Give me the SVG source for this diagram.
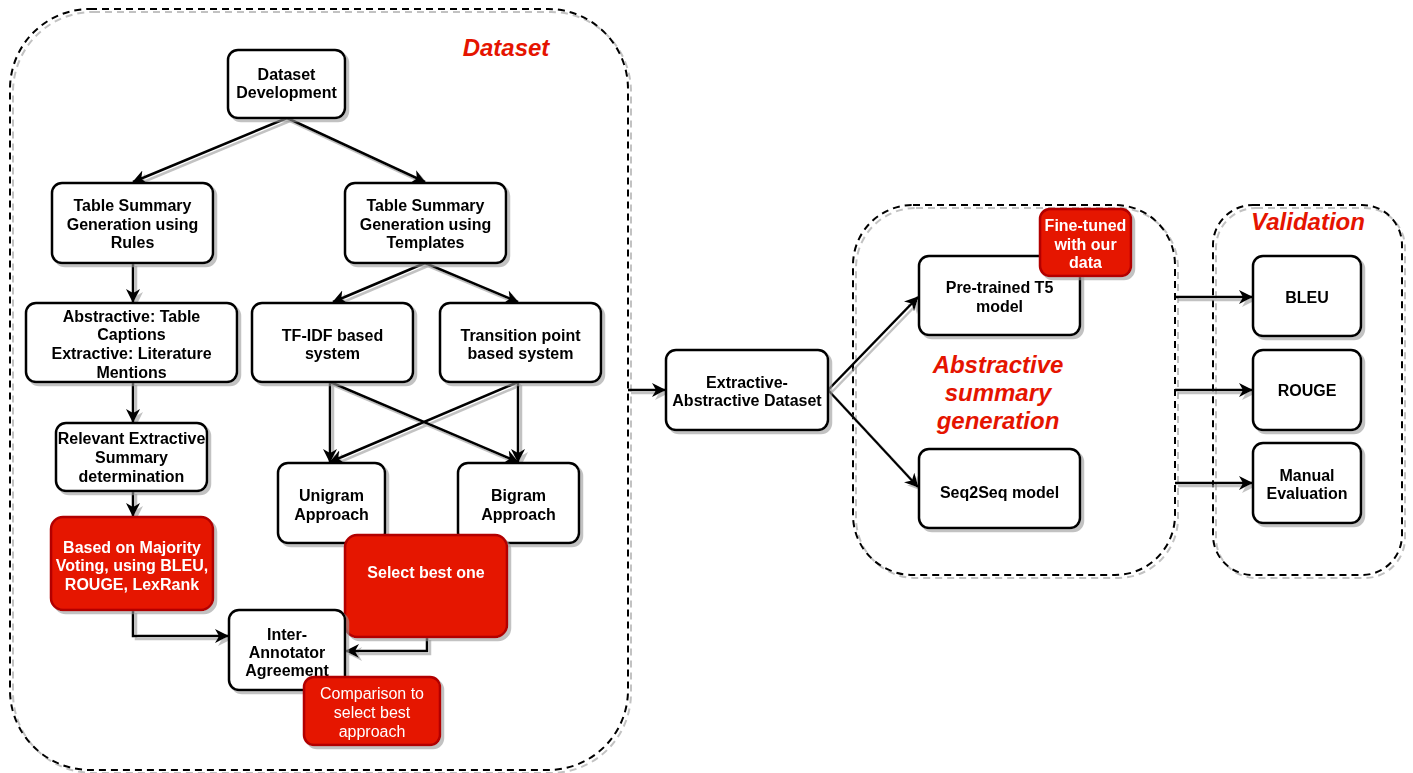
<svg xmlns="http://www.w3.org/2000/svg" width="1413" height="773" viewBox="0 0 1413 773">
<defs>
<filter id="sh" x="-10%" y="-10%" width="130%" height="130%">
<feOffset in="SourceAlpha" dx="3" dy="3" result="o"/>
<feFlood flood-color="#999" flood-opacity="0.6"/>
<feComposite in2="o" operator="in" result="s"/>
<feMerge><feMergeNode in="s"/><feMergeNode in="SourceGraphic"/></feMerge>
</filter>
<marker id="ar" markerWidth="16" markerHeight="16" refX="13" refY="7" orient="auto" markerUnits="userSpaceOnUse">
<path d="M0,0 L14,7 L0,14 L4,7 z" fill="#000"/>
</marker>
</defs>
<style>
.cont{fill:none;stroke:#000;stroke-width:2;stroke-dasharray:7 5}
.box{fill:#fff;stroke:#000;stroke-width:2.5}
.red{fill:#e51400;stroke:#b20000;stroke-width:2.5}
.t{font-family:"Liberation Sans",Arial,sans-serif;font-size:16px;font-weight:bold;fill:#000;text-anchor:middle}
.w{fill:#fff}
.n{font-weight:normal}
.title{font-family:"Liberation Sans",Arial,sans-serif;font-size:24px;font-weight:bold;font-style:italic;fill:#e51400;text-anchor:middle}
.c{fill:none;stroke:#000;stroke-width:2.5}
</style>

<g id="containers" filter="url(#sh)">
<rect id="dataset-container" class="cont" x="10" y="9" width="618" height="761" rx="80"/>
<rect id="abstractive-container" class="cont" x="853" y="205" width="322" height="370" rx="60"/>
<rect id="validation-container" class="cont" x="1213" y="205" width="189" height="370" rx="40"/>
</g>

<g id="titles">
<text class="title" x="506" y="56">Dataset</text>
<text class="title" x="1308" y="230">Validation</text>
<text class="title" x="998" y="373">Abstractive</text>
<text class="title" x="998" y="401">summary</text>
<text class="title" x="998" y="429">generation</text>
</g>

<g id="connectors" filter="url(#sh)">
<path class="c" d="M287,118 L133,182" marker-end="url(#ar)"/>
<path class="c" d="M287,118 L425,182" marker-end="url(#ar)"/>
<path class="c" d="M133,263 L133,302" marker-end="url(#ar)"/>
<path class="c" d="M425,263 L333,302" marker-end="url(#ar)"/>
<path class="c" d="M425,263 L518,302" marker-end="url(#ar)"/>
<path class="c" d="M133,382 L133,422" marker-end="url(#ar)"/>
<path class="c" d="M133,491 L133,516" marker-end="url(#ar)"/>
<path class="c" d="M330,382 L330,462" marker-end="url(#ar)"/>
<path class="c" d="M330,382 L518,462" marker-end="url(#ar)"/>
<path class="c" d="M518,382 L518,462" marker-end="url(#ar)"/>
<path class="c" d="M518,382 L330,462" marker-end="url(#ar)"/>
<path class="c" d="M133,610 L133,636 L228,636" marker-end="url(#ar)"/>
<path class="c" d="M427,637 L427,651 L346,651" marker-end="url(#ar)"/>
<path class="c" d="M628,390 L665,390" stroke-width="4" marker-end="url(#ar)"/>
<path class="c" d="M828,390 L918,297" marker-end="url(#ar)"/>
<path class="c" d="M828,390 L918,487" marker-end="url(#ar)"/>
<path class="c" d="M1175,297 L1252,297" marker-end="url(#ar)"/>
<path class="c" d="M1175,390 L1252,390" marker-end="url(#ar)"/>
<path class="c" d="M1175,483 L1252,483" marker-end="url(#ar)"/>
</g>

<g id="n-dataset-dev" filter="url(#sh)">
<rect class="box" x="228" y="50" width="117" height="68" rx="10"/>
<text class="t" x="286.5" y="80">Dataset</text>
<text class="t" x="286.5" y="98">Development</text>
</g>
<g id="n-rules" filter="url(#sh)">
<rect class="box" x="52" y="183" width="161" height="80" rx="10"/>
<text class="t" x="132.5" y="211">Table Summary</text>
<text class="t" x="132.5" y="230">Generation using</text>
<text class="t" x="132.5" y="248">Rules</text>
</g>
<g id="n-templates" filter="url(#sh)">
<rect class="box" x="345" y="183" width="161" height="80" rx="10"/>
<text class="t" x="425.5" y="211">Table Summary</text>
<text class="t" x="425.5" y="230">Generation using</text>
<text class="t" x="425.5" y="248">Templates</text>
</g>
<g id="n-abs-ext" filter="url(#sh)">
<rect class="box" x="26" y="303" width="211" height="79" rx="10"/>
<text class="t" x="131.5" y="322">Abstractive: Table</text>
<text class="t" x="131.5" y="340">Captions</text>
<text class="t" x="131.5" y="359">Extractive: Literature</text>
<text class="t" x="131.5" y="378">Mentions</text>
</g>
<g id="n-tfidf" filter="url(#sh)">
<rect class="box" x="252" y="303" width="161" height="79" rx="10"/>
<text class="t" x="332.5" y="341">TF-IDF based</text>
<text class="t" x="332.5" y="359">system</text>
</g>
<g id="n-transition" filter="url(#sh)">
<rect class="box" x="440" y="303" width="161" height="79" rx="10"/>
<text class="t" x="520.5" y="341">Transition point</text>
<text class="t" x="520.5" y="359">based system</text>
</g>
<g id="n-relevant" filter="url(#sh)">
<rect class="box" x="56" y="423" width="151" height="68" rx="10"/>
<text class="t" x="131.5" y="444">Relevant Extractive</text>
<text class="t" x="131.5" y="463">Summary</text>
<text class="t" x="131.5" y="482">determination</text>
</g>
<g id="n-unigram" filter="url(#sh)">
<rect class="box" x="278" y="463" width="107" height="80" rx="10"/>
<text class="t" x="331.5" y="501">Unigram</text>
<text class="t" x="331.5" y="520">Approach</text>
</g>
<g id="n-bigram" filter="url(#sh)">
<rect class="box" x="458" y="463" width="121" height="80" rx="10"/>
<text class="t" x="518.5" y="501">Bigram</text>
<text class="t" x="518.5" y="520">Approach</text>
</g>
<g id="n-majority" filter="url(#sh)">
<rect class="red" x="51" y="517" width="162" height="93" rx="12"/>
<text class="t w" x="132" y="553">Based on Majority</text>
<text class="t w" x="132" y="571">Voting, using BLEU,</text>
<text class="t w" x="132" y="590">ROUGE, LexRank</text>
</g>
<g id="n-select" filter="url(#sh)">
<rect class="red" x="345" y="535" width="162" height="102" rx="12"/>
<text class="t w" x="426" y="578">Select best one</text>
</g>
<g id="n-inter" filter="url(#sh)">
<rect class="box" x="229" y="610" width="116" height="80" rx="10"/>
<text class="t" x="287" y="640">Inter-</text>
<text class="t" x="287" y="658">Annotator</text>
<text class="t" x="287" y="676">Agreement</text>
</g>
<g id="n-comparison" filter="url(#sh)">
<rect class="red" x="304" y="677" width="136" height="68" rx="10"/>
<text class="t w n" x="372" y="699">Comparison to</text>
<text class="t w n" x="372" y="718">select best</text>
<text class="t w n" x="372" y="737">approach</text>
</g>
<g id="n-ext-abs" filter="url(#sh)">
<rect class="box" x="666" y="350" width="162" height="80" rx="10"/>
<text class="t" x="747" y="388">Extractive-</text>
<text class="t" x="747" y="406">Abstractive Dataset</text>
</g>
<g id="n-t5" filter="url(#sh)">
<rect class="box" x="919" y="256" width="161" height="79" rx="10"/>
<text class="t" x="999.5" y="293">Pre-trained T5</text>
<text class="t" x="999.5" y="312">model</text>
</g>
<g id="n-finetuned" filter="url(#sh)">
<rect class="red" x="1040" y="209" width="91" height="67" rx="10"/>
<text class="t w" x="1085.5" y="231">Fine-tuned</text>
<text class="t w" x="1085.5" y="250">with our</text>
<text class="t w" x="1085.5" y="268">data</text>
</g>
<g id="n-seq2seq" filter="url(#sh)">
<rect class="box" x="919" y="449" width="161" height="79" rx="10"/>
<text class="t" x="999.5" y="498">Seq2Seq model</text>
</g>
<g id="n-bleu" filter="url(#sh)">
<rect class="box" x="1253" y="256" width="108" height="80" rx="10"/>
<text class="t" x="1307" y="303">BLEU</text>
</g>
<g id="n-rouge" filter="url(#sh)">
<rect class="box" x="1253" y="350" width="108" height="80" rx="10"/>
<text class="t" x="1307" y="396">ROUGE</text>
</g>
<g id="n-manual" filter="url(#sh)">
<rect class="box" x="1253" y="443" width="108" height="80" rx="10"/>
<text class="t" x="1307" y="481">Manual</text>
<text class="t" x="1307" y="499">Evaluation</text>
</g>
</svg>
